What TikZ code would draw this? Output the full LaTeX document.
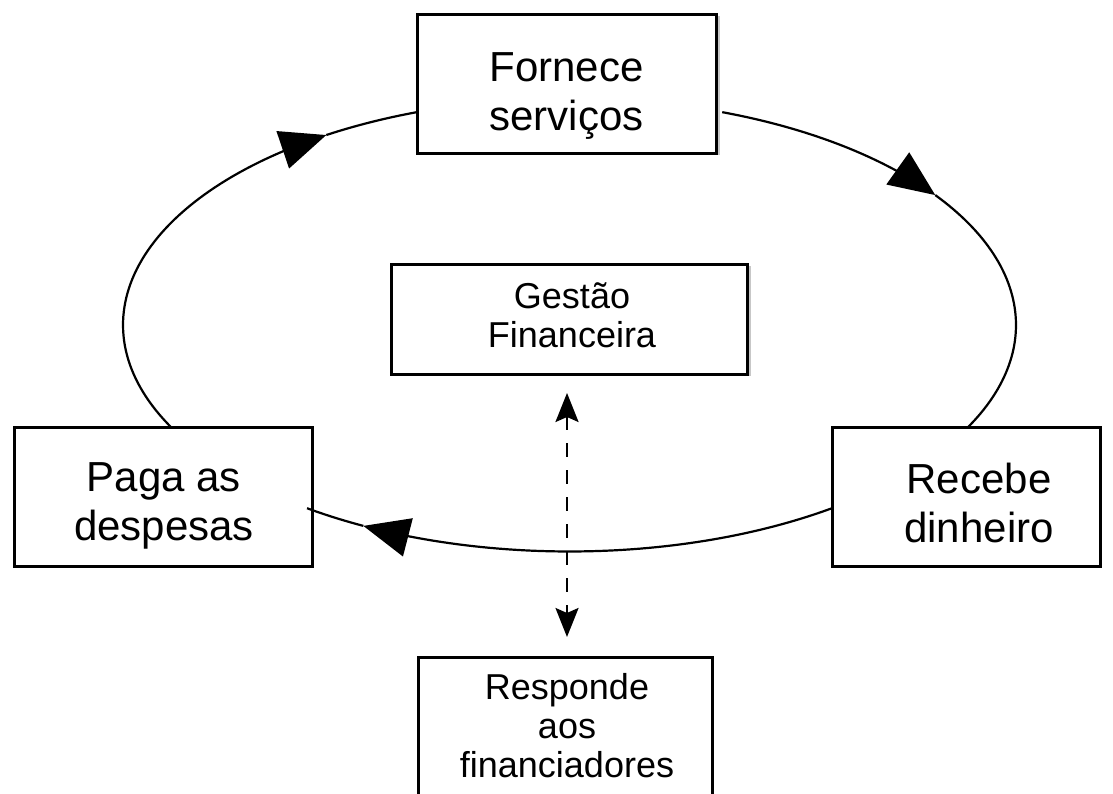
\documentclass[tikz,border=0pt]{standalone}
\usepackage{fontspec}
\setmainfont{Liberation Sans}
\usetikzlibrary{arrows.meta,calc}
\begin{document}
\begin{tikzpicture}[x=1pt,y=1pt,
  box/.style={draw, line width=3pt, inner sep=0pt},
  bigtxt/.style={font=\fontsize{42}{49}\selectfont, align=center, inner sep=0pt},
  smalltxt/.style={font=\fontsize{36}{39}\selectfont, align=center, inner sep=0pt},
  cyc/.style={line width=2.2pt},
  cyctip/.style={-{Triangle[length=46pt,width=39pt]}},
  shadowline/.style={line width=2pt, black!22},
  dasharrow/.style={line width=2.4pt, dash pattern=on 14pt off 13pt,
    {Stealth[length=29pt,width=23pt,inset=5pt]}-{Stealth[length=29pt,width=23pt,inset=5pt]}}]
\useasboundingbox (0,0) rectangle (1113,794);
\fill[white] (0,0) rectangle (1113,794);
\clip (0,0) rectangle (1113,794);

% boxes
\node[box, minimum width=299pt, minimum height=139pt] (forn) at (566.5,709.5) {};
\node[bigtxt, yshift=-12pt] (fornt) at (forn.center) {Fornece\\serviços};
\draw[shadowline] ([xshift=1.5pt,yshift=-3pt]forn.north east) -- ([xshift=1.5pt]forn.south east);

\node[box, minimum width=356pt, minimum height=110pt] (gest) at (569,474) {};
\node[smalltxt, yshift=5pt] (gestt) at (572,474) {Gestão\\Financeira};
\draw[shadowline] ([xshift=1.5pt,yshift=-3pt]gest.north east) -- ([xshift=1.5pt]gest.south east);

\node[box, minimum width=298pt, minimum height=139pt] (paga) at (163,296.5) {};
\node[bigtxt, yshift=-8pt] (pagat) at (164,296.5) {Paga as\\despesas};

\node[box, minimum width=268pt, minimum height=139pt] (rec) at (966,296.5) {};
\node[bigtxt, yshift=-5pt] (rect) at (979,296.5) {Recebe\\dinheiro};

\node[box, minimum width=294pt, minimum height=170pt] (resp) at (565,51) {};
\node[smalltxt] (respt) at (567,68.5) {Responde\\aos\\financiadores};

% cycle arcs (ellipse centre (569.5,469), radii 446.5 x 226.5)
\draw[cyc, cyctip] plot[domain=207.05:123, samples=70] ({569.5+446.5*cos(\x)},{469+226.5*sin(\x)});
\draw[cyc] plot[domain=123:110, samples=15] ({569.5+446.5*cos(\x)},{469+226.5*sin(\x)});

\draw[cyc, cyctip] plot[domain=70:35, samples=40] ({569.5+446.5*cos(\x)},{469+226.5*sin(\x)});
\draw[cyc] plot[domain=35:-27.05, samples=60] ({569.5+446.5*cos(\x)},{469+226.5*sin(\x)});

\draw[cyc, cyctip] plot[domain=-54:-117.5, samples=60] ({569.5+446.5*cos(\x)},{469+226.5*sin(\x)});
\draw[cyc] plot[domain=-117.5:-126, samples=10] ({569.5+446.5*cos(\x)},{469+226.5*sin(\x)});

% dashed double arrow
\coordinate (ax) at (567,0);
\draw[dasharrow, shorten <=16.5pt, shorten >=19.5pt] (gest.south -| ax) -- (resp.north -| ax);
\end{tikzpicture}
\end{document}
